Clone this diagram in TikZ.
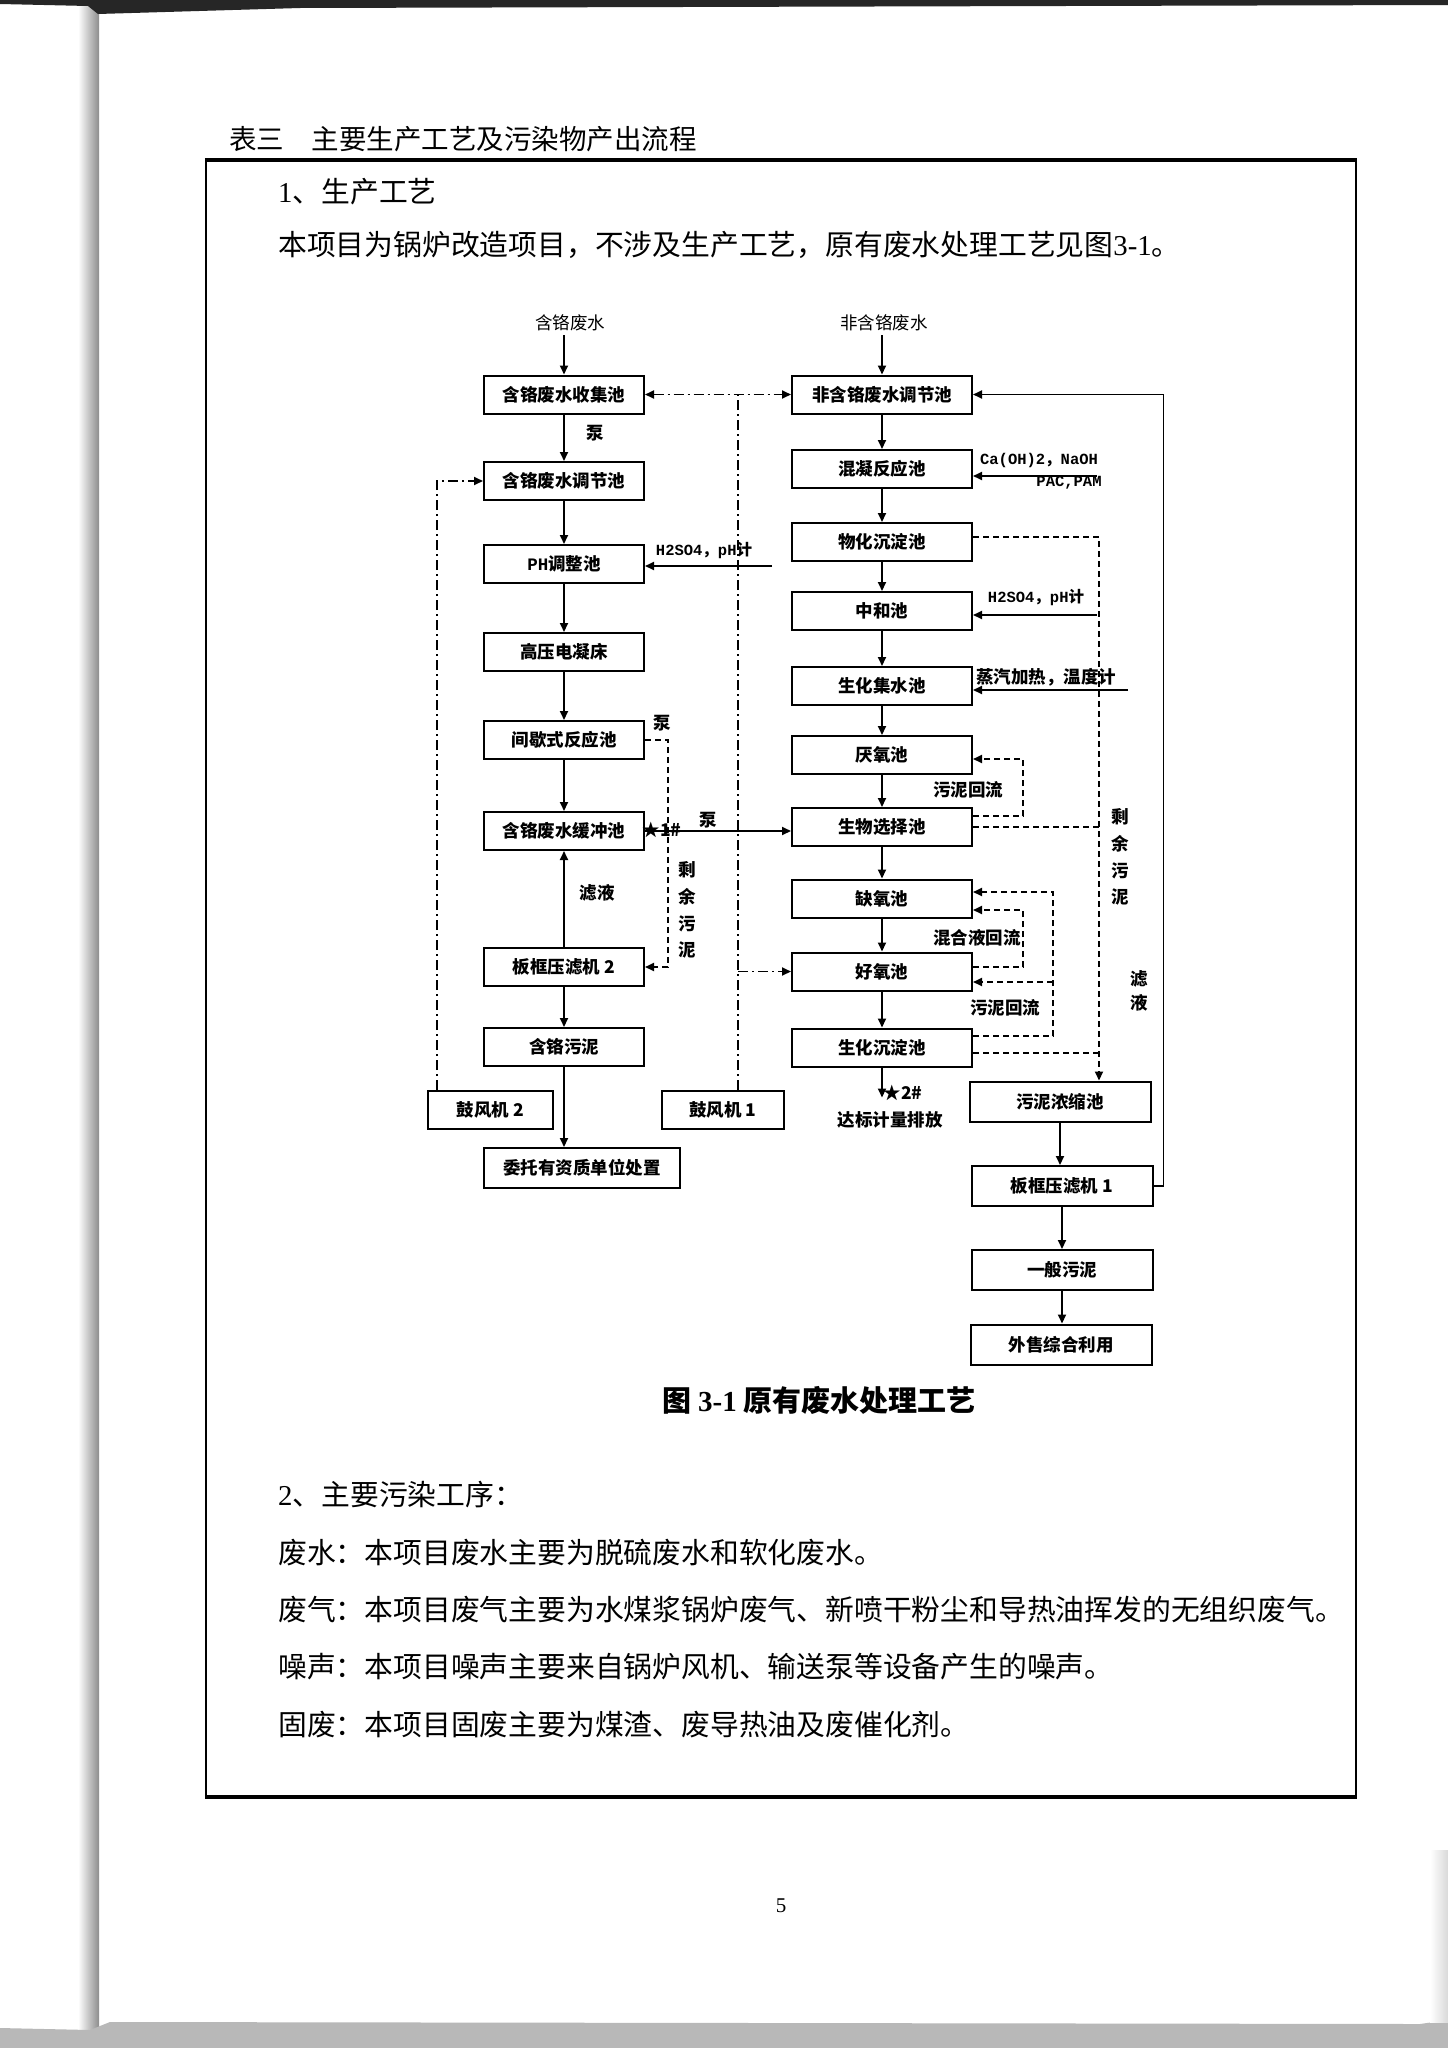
\documentclass[tikz,border=0pt]{standalone}
\usepackage{fontspec}
\setmainfont{Noto Sans CJK SC}
\newfontfamily\cjk{Noto Sans CJK SC}
\newfontfamily\monof{Liberation Mono}
\newfontfamily\serifl{Liberation Serif}
\newfontfamily\djv{DejaVu Sans}
\usetikzlibrary{arrows.meta}
\begin{document}
\begin{tikzpicture}[x=1pt,y=-1pt,
 box/.style={draw, line width=2pt, inner sep=0pt, font=\cjk\bfseries\fontsize{17.5}{20}\selectfont},
 lbox/.style={box, minimum width=160pt, minimum height=38pt},
 rbox/.style={box, minimum width=180pt, minimum height=38pt},
 sbox/.style={box, minimum width=181pt, minimum height=40pt},
 flow/.style={line width=1.8pt, -{Triangle[length=9pt,width=8pt]}},
 dflow/.style={flow, dash pattern=on 6pt off 4pt},
 dline/.style={line width=1.8pt, dash pattern=on 6pt off 4pt},
 ddflow/.style={flow, dash pattern=on 10pt off 4pt on 2pt off 4pt},
 ddline/.style={line width=1.8pt, dash pattern=on 10pt off 4pt on 2pt off 4pt},
 lab/.style={inner sep=0pt, font=\cjk\bfseries\fontsize{17.5}{20}\selectfont},
 vlab/.style={inner sep=0pt, align=center, font=\cjk\bfseries\fontsize{17.5}{26.7}\selectfont},
 mlab/.style={inner sep=0pt, font=\monof\bfseries\fontsize{15.5}{18}\selectfont},
 body/.style={anchor=west, inner sep=0pt, font=\cjk\fontsize{28.8}{34}\selectfont},
]
\useasboundingbox (0,0) rectangle (1448,2048);
% page background / scan edges
\fill[white] (0,0) rectangle (1448,2048);
\shade[left color=white, right color=black!45] (78,0) rectangle (99,2030);
\fill[black!85] (0,0) -- (1448,0) -- (1448,5) -- (300,8) -- (98,14) -- (88,6) -- (0,4) -- cycle;
\fill[black!28] (0,2028) -- (90,2030) -- (110,2022) -- (1420,2024) -- (1448,2020) -- (1448,2048) -- (0,2048) -- cycle;
\shade[left color=white, right color=black!15] (1430,1850) rectangle (1448,2022);

% heading and frame
\node[anchor=west, inner sep=0pt, font=\cjk\fontsize{27.5}{30}\selectfont] (title) at (229,139) {表三\hspace{27.5pt}主要生产工艺及污染物产出流程};
\draw[line width=2.5pt] (206,160) -- (206,1798);
\draw[line width=2.5pt] (1356,160) -- (1356,1798);
\draw[line width=3.5pt] (204.75,160) -- (1357.25,160);
\draw[line width=4.5pt] (204.75,1797) -- (1357.25,1797);

\node[body] (t1) at (278,192) {{\serifl 1}、生产工艺};
\node[body] (t2) at (278,245) {本项目为锅炉改造项目，不涉及生产工艺，原有废水处理工艺见图{\serifl 3-1}。};

% inputs
\node[inner sep=4pt, font=\cjk\fontsize{17.5}{20}\selectfont] (in1) at (570,323) {含铬废水};
\node[inner sep=4pt, font=\cjk\fontsize{17.5}{20}\selectfont] (in2) at (884,323) {非含铬废水};

% left column
\node[lbox] (a1) at (564,394.5) {含铬废水收集池};
\node[lbox] (a2) at (564,481) {含铬废水调节池};
\node[lbox] (a3) at (564,564) {{\monof\bfseries PH}调整池};
\node[lbox] (a4) at (564,652) {高压电凝床};
\node[lbox] (a5) at (564,740) {间歇式反应池};
\node[lbox] (a6) at (564,831) {含铬废水缓冲池};
\node[lbox] (a7) at (564,967) {板框压滤机 2};
\node[lbox] (a8) at (564,1047) {含铬污泥};
\node[box, minimum width=196pt, minimum height=40pt] (a9) at (582,1168) {委托有资质单位处置};
\node[box, minimum width=125pt, minimum height=38pt] (b2) at (490.5,1110) {鼓风机 2};
\node[box, minimum width=122pt, minimum height=38pt] (b1) at (723,1110) {鼓风机 1};

% right column
\node[rbox] (r1) at (882,394.5) {非含铬废水调节池};
\node[rbox] (r2) at (882,469) {混凝反应池};
\node[rbox] (r3) at (882,542) {物化沉淀池};
\node[rbox] (r4) at (882,611) {中和池};
\node[rbox] (r5) at (882,686) {生化集水池};
\node[rbox] (r6) at (882,755) {厌氧池};
\node[rbox] (r7) at (882,827) {生物选择池};
\node[rbox] (r8) at (882,898.5) {缺氧池};
\node[rbox] (r9) at (882,971.5) {好氧池};
\node[rbox] (r10) at (882,1047.5) {生化沉淀池};

% sludge column
\node[sbox] (s1) at (1060,1101.5) {污泥浓缩池};
\node[sbox] (s2) at (1062,1186) {板框压滤机 1};
\node[sbox] (s3) at (1062,1270) {一般污泥};
\node[sbox] (s4) at (1061,1344.5) {外售综合利用};

% main flows
\draw[flow] (a1.north |- in1.south) -- (a1.north);
\draw[flow] (r1.north |- in2.south) -- (r1.north);
\draw[flow] (a1) -- (a2);
\draw[flow] (a2) -- (a3);
\draw[flow] (a3) -- (a4);
\draw[flow] (a4) -- (a5);
\draw[flow] (a5) -- (a6);
\draw[flow] (a7) -- (a6);
\draw[flow] (a7) -- (a8);
\draw[flow] (a8.south) -- (a8.south |- a9.north);
\draw[flow] (r1) -- (r2);
\draw[flow] (r2) -- (r3);
\draw[flow] (r3) -- (r4);
\draw[flow] (r4) -- (r5);
\draw[flow] (r5) -- (r6);
\draw[flow] (r6) -- (r7);
\draw[flow] (r7) -- (r8);
\draw[flow] (r8) -- (r9);
\draw[flow] (r9) -- (r10);
\draw[flow] (r10.south) -- ++(0,30) coordinate (out);
\draw[flow] (s1.south) -- (s1.south |- s2.north);
\draw[flow] (s2.south) -- (s2.south |- s3.north);
\draw[flow] (s3.south) -- (s3.south |- s4.north);
\draw[flow] (a6.east) -- (a6.east -| r7.west);

% chemical dosing
\coordinate (ph0) at (772,566);
\draw[flow] (ph0) -- (ph0 -| a3.east);
\coordinate (ca0) at (1097,476);
\draw[flow] (ca0) -- (ca0 -| r2.east);
\coordinate (h0) at (1097,615);
\draw[flow] (h0) -- (h0 -| r4.east);
\coordinate (st0) at (1128,690);
\draw[flow] (st0) -- (st0 -| r5.east);

% solid filtrate return
\draw[flow] (s2.east) -- ++(10,0) |- (r1.east);

% left dashed: residual sludge to press 2
\draw[dflow] (a5.east) -- ++(23,0) |- (a7.east);

% air dash-dot lines
\draw[ddflow] ([xshift=10pt]b2.north west) |- (a2.west);
\draw[ddflow, {Triangle[length=9pt,width=8pt]}-{Triangle[length=9pt,width=8pt]}] (a1.east) -- (r1.west);
\draw[ddline] ([xshift=15pt]b1.north) -- ([xshift=15pt]b1.north |- a1.east);
\draw[ddflow] ([xshift=15pt]b1.north |- r9.west) -- (r9.west);

% right dashed sludge lines
\coordinate (mx) at (1099,0);
\draw[dflow] ([yshift=5pt]r3.east) -| ([xshift=39pt]s1.north);
\draw[dline] (r7.east) -- (r7.east -| mx);
\draw[dline] ([yshift=-5.5pt]r10.east) -- ([yshift=-5.5pt]r10.east -| mx);
\draw[dflow] ([yshift=11pt]r7.east) -- ++(50,0) |- ([yshift=-4pt]r6.east);
\draw[dflow] ([yshift=4.5pt]r9.east) -- ++(50,0) |- ([yshift=-11.5pt]r8.east);
\draw[dflow] ([yshift=11.5pt]r10.east) -- ++(80,0) |- ([yshift=6.5pt]r8.east);
\coordinate (ob) at ([xshift=80pt,yshift=-10.5pt]r9.east);
\draw[dflow] (ob) -- ([yshift=-10.5pt]r9.east);

% labels
\node[lab] (l1) at (595,433) {泵};
\node[mlab] (l2) at (704,551) {H2SO4{\cjk ，}pH{\cjk 计}};
\node[mlab] (l3) at (1039,460) {Ca(OH)2{\cjk ，}NaOH};
\node[mlab] (l4) at (1069,483) {PAC,PAM};
\node[mlab] (l5) at (1036,598) {H2SO4{\cjk ，}pH{\cjk 计}};
\node[lab] (l6) at (1046,677) {蒸汽加热{\cjk ，}温度计};
\node[lab] (l7) at (662,723) {泵};
\node[lab] (l8) at (662,830) {{\cjk ★}1\#};
\node[lab] (l9) at (708,820) {泵};
\node[lab] (l10) at (597,893) {滤液};
\node[vlab] (l11) at (687,910) {剩\\余\\污\\泥};
\node[lab] (l12) at (968,790) {污泥回流};
\node[vlab] (l13) at (1120,857) {剩\\余\\污\\泥};
\node[lab] (l14) at (977,938) {混合液回流};
\node[lab] (l15) at (1005,1008) {污泥回流};
\node[inner sep=0pt, align=center, font=\cjk\bfseries\fontsize{17.5}{24}\selectfont] (l16) at (1139,991) {滤\\液};
\node[lab] (l17) at (903,1093) {{\cjk ★}2\#};
\node[lab] (l18) at (890,1120) {达标计量排放};

% caption
\node[inner sep=0pt, font=\cjk\bfseries\fontsize{29}{32}\selectfont] (cap) at (819,1400) {图 {\serifl\bfseries 3-1} 原有废水处理工艺};

% section 2
\node[body] (u1) at (278,1495) {{\serifl 2}、主要污染工序：};
\node[body] (u2) at (278,1553) {废水：本项目废水主要为脱硫废水和软化废水。};
\node[body] (u3) at (278,1610) {废气：本项目废气主要为水煤浆锅炉废气、新喷干粉尘和导热油挥发的无组织废气。};
\node[body] (u4) at (278,1667) {噪声：本项目噪声主要来自锅炉风机、输送泵等设备产生的噪声。};
\node[body] (u5) at (278,1725) {固废：本项目固废主要为煤渣、废导热油及废催化剂。};

\node[inner sep=0pt, font=\serifl\fontsize{21}{24}\selectfont] (pg) at (781,1906) {5};
\end{tikzpicture}
\end{document}
